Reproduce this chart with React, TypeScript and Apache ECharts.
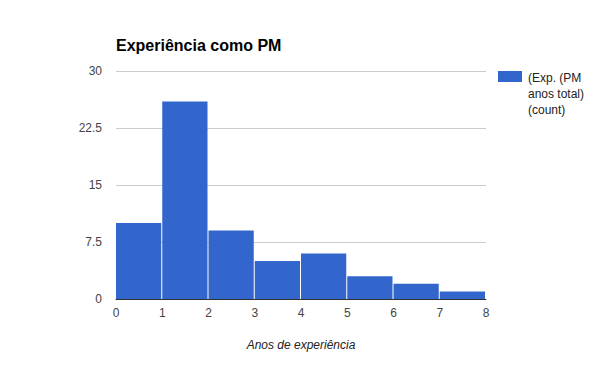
import React, { useEffect, useRef } from "react";
import * as echarts from "echarts";

const binStarts = [0, 1, 2, 3, 4, 5, 6, 7];
const binEnds = [1, 2, 3, 4, 5, 6, 7, 8];
const counts = [10, 26, 9, 5, 6, 3, 2, 1];
const yTicks = [0, 7.5, 15, 22.5, 30];
const seriesName = "(Exp. (PM anos total) (count)";
const legendLines = ["(Exp. (PM", "anos total)", "(count)"];

export default function App() {
  const ref = useRef<HTMLDivElement>(null);
  useEffect(() => {
    if (!ref.current) return;
    const chart = echarts.init(ref.current, null, { renderer: "svg" });
    const font = "Arial, 'Liberation Sans', sans-serif";
    chart.setOption({
      animation: false,
      textStyle: { fontFamily: font },
      title: {
        text: "Experiência como PM",
        left: 111,
        top: 32,
        textStyle: { fontSize: 16, fontWeight: "bold", color: "#000", fontFamily: font },
      },
      grid: { left: 116, right: 114, top: 71, bottom: 72 },
      xAxis: {
        type: "value",
        min: 0,
        max: 8,
        interval: 1,
        name: "Anos de experiência",
        nameLocation: "middle",
        nameGap: 40,
        nameTextStyle: { fontStyle: "italic", fontSize: 12, color: "#222", fontFamily: font },
        axisLine: { show: true, lineStyle: { color: "#333", width: 1 } },
        axisTick: { show: false },
        splitLine: { show: false },
        axisLabel: { fontSize: 12, color: "#444", margin: 8, fontFamily: font },
      },
      yAxis: {
        type: "value",
        min: 0,
        max: 30,
        interval: 7.5,
        axisLine: { show: false },
        axisTick: { show: false },
        splitLine: { lineStyle: { color: "#cccccc", width: 1 } },
        axisLabel: {
          fontSize: 12,
          color: "#444",
          margin: 14,
          fontFamily: font,
          formatter: (v: number) => (yTicks.includes(v) ? String(v) : ""),
        },
      },
      graphic: [
        {
          type: "rect",
          left: 498,
          top: 71,
          shape: { width: 24, height: 11 },
          style: { fill: "#3366cc" },
        },
        {
          type: "text",
          left: 528,
          top: 70,
          style: {
            text: legendLines.join("\n"),
            fontSize: 12,
            lineHeight: 16,
            fill: "#222",
            fontFamily: font,
          },
        },
      ],
      series: [
        {
          name: seriesName,
          type: "custom",
          renderItem: (params: any, api: any) => {
            const s = api.value(0);
            const e = api.value(1);
            const c = api.value(2);
            const p0 = api.coord([s, c]);
            const p1 = api.coord([e, 0]);
            return {
              type: "rect",
              shape: {
                x: p0[0],
                y: p0[1],
                width: p1[0] - p0[0] - 1,
                height: p1[1] - p0[1],
              },
              style: { fill: "#3366cc" },
            };
          },
          encode: { x: [0, 1], y: 2 },
          data: binStarts.map((s, i) => [s, binEnds[i], counts[i]]),
          z: 1,
        },
      ],
    });
    return () => chart.dispose();
  }, []);
  return <div ref={ref} style={{ width: 600, height: 371, position: "absolute", left: 0, top: 0 }} />;
}
